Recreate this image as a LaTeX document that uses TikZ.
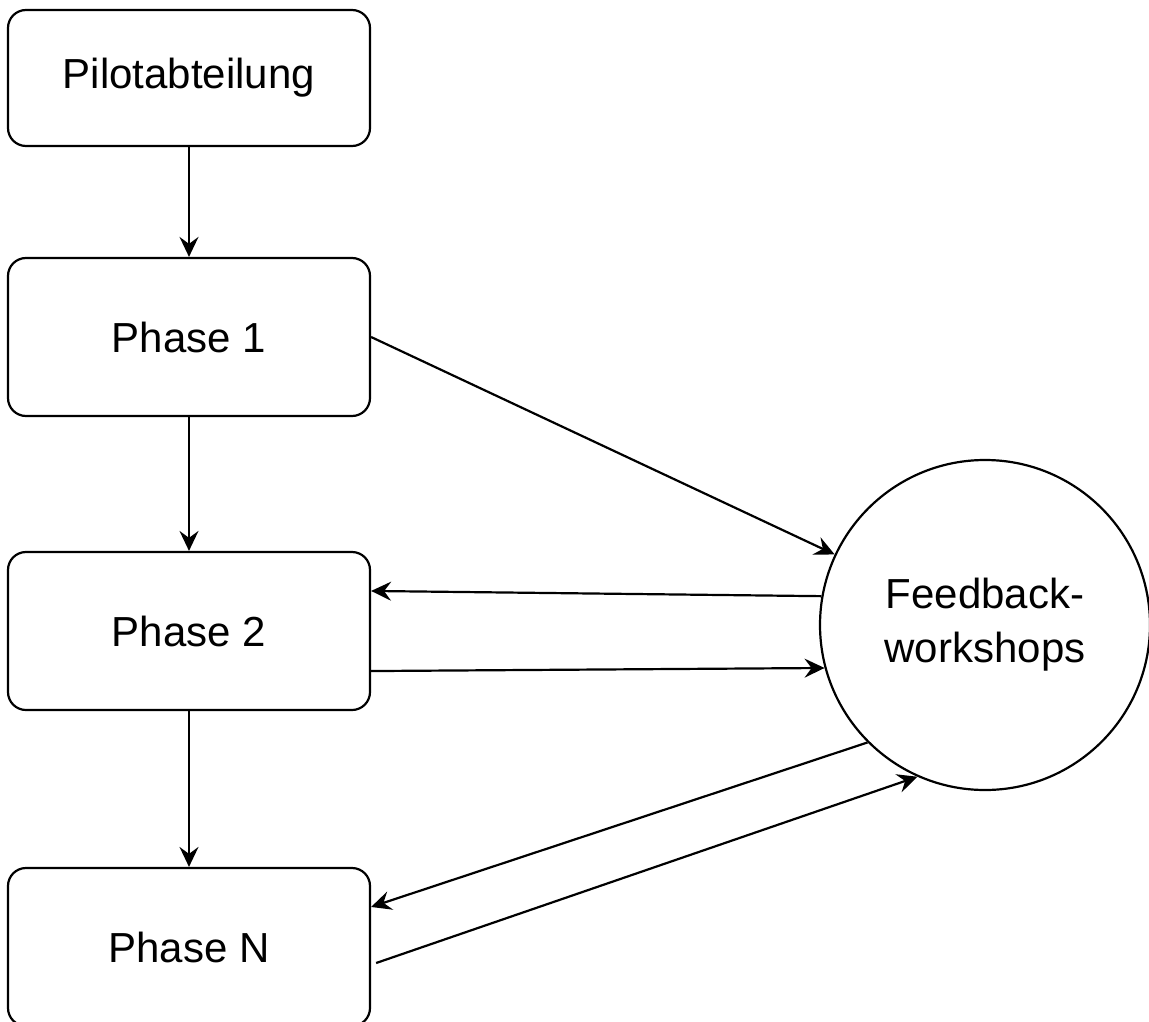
\documentclass[tikz,border=0pt]{standalone}
\usepackage{fontspec}
\setmainfont{Liberation Sans}
\usetikzlibrary{arrows.meta,calc}
\begin{document}
\begin{tikzpicture}[x=0.5pt,y=-0.5pt,
  box/.style={draw, line width=1.1pt, rounded corners=9pt, minimum width=181pt,
    inner sep=0pt, font=\fontsize{21}{25}\selectfont},
  fbcircle/.style={draw, circle, line width=1.1pt, minimum size=165pt, inner sep=0pt,
    align=center, font=\fontsize{21}{27}\selectfont},
  conn/.style={line width=1.1pt, -{Stealth[length=10pt,width=9.5pt,inset=3.5pt]}}
]
\fill[white] (0,0) rectangle (1149,1021);
\clip (0,0) rectangle (1149,1021);
\node[box, minimum height=68pt] (pilot) at (189,78) {Pilotabteilung};
\node[box, minimum height=79pt] (p1) at (189,337) {Phase 1};
\node[box, minimum height=79pt] (p2) at (189,631) {Phase 2};
\node[box, minimum height=79pt] (pn) at (189,947) {Phase N};
\node[fbcircle] (fb) at (985,625) {Feedback-\\workshops};

\draw[conn] (pilot) -- (p1);
\draw[conn] (p1) -- (p2);
\draw[conn] (p2) -- (pn);
\draw[conn] (p1.east) -- (fb);
\draw[conn] (fb.170) -- ($(p2.north east)!0.25!(p2.south east)$);
\draw[conn] ($(p2.north east)!0.75!(p2.south east)$) -- (fb.195);
\draw[conn] (fb.225) -- ($(pn.north east)!0.25!(pn.south east)$);
\draw[conn] ($(pn.north east)!0.6!(pn.south east)+(5,0)$) -- (fb.246);
\end{tikzpicture}
\end{document}
